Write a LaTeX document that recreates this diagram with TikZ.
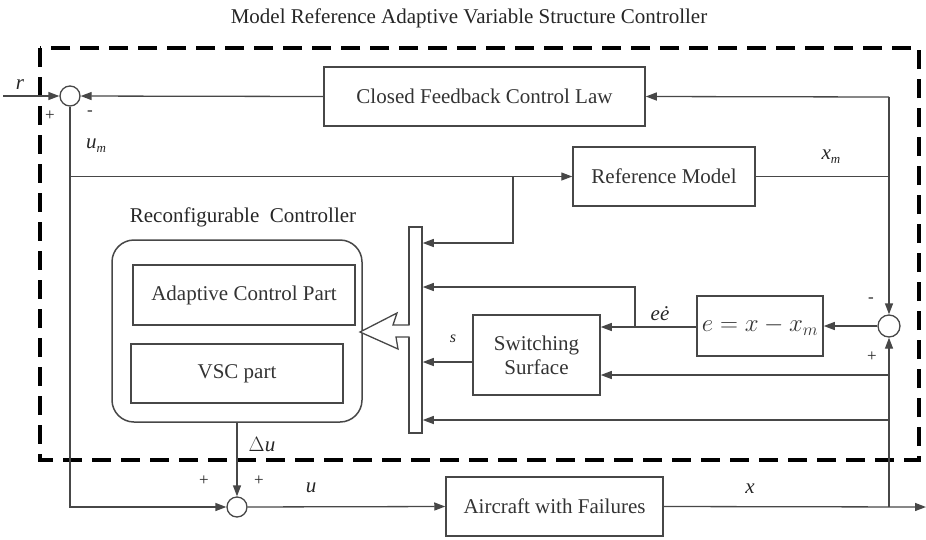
\documentclass[tikz,border=0pt]{standalone}
\usepackage{fontspec}
\setmainfont{LiberationSerif}[Extension=.ttf,UprightFont=*-Regular,ItalicFont=*-Italic,BoldFont=*-Bold,BoldItalicFont=*-BoldItalic]
\usetikzlibrary{arrows.meta}
\newcommand{\bigtxt}{\fontsize{21}{24}\selectfont}
\newcommand{\sgn}{\fontsize{17}{20}\selectfont}
\newcommand{\subv}[2]{\textit{#1}\raisebox{-0.45ex}{\fontsize{13}{14}\selectfont\textit{#2}}}
\begin{document}
\begin{tikzpicture}[x=1pt,y=-1pt,
  ln/.style={draw=black!72,line width=1.3pt},
  arr/.style={ln,-{Triangle[length=11pt,width=8pt]}},
  blk/.style={draw=black!72,line width=1.5pt,rectangle,inner sep=0pt,font=\bigtxt,text=black!80,align=center},
  sumc/.style={draw=black!72,line width=1.3pt,circle,inner sep=0pt,fill=white},
  lbl/.style={font=\bigtxt,text=black!85,inner sep=0pt},
  sg/.style={font=\sgn,text=black!85,inner sep=0pt}
]
\useasboundingbox (0,0) rectangle (926,539);

% title
\node[lbl] (title) at (469,18) {Model Reference Adaptive Variable Structure Controller};

% dashed frame
\draw[line width=3.6pt,dash pattern=on 19pt off 10pt] (40,48) rectangle (919,460);

% blocks
\node[blk,minimum width=321,minimum height=59] (cfcl) at (484.5,96.5) {Closed Feedback Control Law};
\node[blk,minimum width=182,minimum height=59] (refm) at (664,176.5) {Reference Model};
\node[blk,minimum width=217,minimum height=59] (air) at (554.5,506.5) {Aircraft with Failures};
\node[blk,minimum width=126,minimum height=60] (ebox) at (760,326) {\fontsize{24}{26}\selectfont$e=x-x_m$};
\node[blk,minimum width=127,minimum height=80] (sw) at (536.5,355) {Switching\\Surface};
\node[blk,minimum width=250,minimum height=182,rounded corners=22pt] (rc) at (237,331) {};
\node[blk,minimum width=222,minimum height=60] (acp) at (244,295) {Adaptive Control Part};
\node[blk,minimum width=212,minimum height=59] (vsc) at (237,373.5) {VSC part};
\node[lbl] (rclbl) at (243,217) {Reconfigurable\ \ Controller};

% bar and hollow arrow
\node[blk,minimum width=13,minimum height=206,fill=white] (bar) at (415.5,330) {};
\fill[white] (410.5,325) -- (393,325) -- (397,313) -- (360,332) -- (398,349) -- (396,337) -- (410.5,337) -- cycle;
\draw[ln,line width=1.3pt,line join=miter] (409.5,325) -- (393,325) -- (397,313) -- (360,332) -- (398,349) -- (396,337) -- (409.5,337);

% summing junctions
\node[sumc,minimum size=20] (c1) at (70,96) {};
\node[sumc,minimum size=22] (c2) at (889,326) {};
\node[sumc,minimum size=20] (c3) at (237,507) {};

% coordinates
\coordinate (rin) at (3,96);
\coordinate (fbtop) at (889,97);
\coordinate (xmj) at (889,176.5);
\coordinate (umj) at (70,176.5);
\coordinate (umb) at (70,507);
\coordinate (rmtap) at (513,176.5);
\coordinate (rmbend) at (513,243);
\coordinate (eetap) at (635,327);
\coordinate (eebend) at (635,287);
\coordinate (xj1) at (889,375);
\coordinate (xj2) at (889,420);
\coordinate (xj3) at (889,507);
\coordinate (xout) at (926,507);

% connectors
\draw[arr] (rin) -- (c1);
\draw[arr] (cfcl.west) -- (c1);
\draw[arr] (fbtop) -- (cfcl.east);
\draw[arr] (fbtop) -- (c2);
\draw[ln] (refm.east) -- (xmj);
\draw[arr] (c1) -- (umb) -- (c3);
\draw[arr] (umj) -- (refm.west);
\draw[arr] (rmtap) -- (rmbend) -- (bar.east |- rmbend);
\draw[arr] (c2) -- (ebox.east);
\draw[arr] (ebox.west |- eetap) -- (sw.east |- eetap);
\draw[arr] (eetap) -- (eebend) -- (bar.east |- eebend);
\draw[arr] (sw.west |- 0,362) -- (bar.east |- 0,362);
\draw[arr] (xj1) -- (sw.east |- xj1);
\draw[arr] (xj2) -- (bar.east |- xj2);
\draw[arr] (xj3) -- (c2);
\draw[arr] (air.east) -- (xout);
\draw[arr] (rc.south) -- (c3);
\draw[arr] (c3) -- (air.west);

% labels
\node[lbl] (lr) at (20,85) {\textit{r}};
\node[sg] (p1) at (50,116) {+};
\node[sg] (m1) at (90,113) {-};
\node[lbl] (lum) at (96,146) {\subv{u}{m}};
\node[lbl] (lxm) at (831,157) {\subv{x}{m}};
\node[lbl] (lee) at (660,314) {\textit{e\.{e}}};
\node[lbl] (ls) at (453,339) {\fontsize{16}{18}\selectfont\textit{s}};
\node[lbl] (ldu) at (262,445) {$\Delta$\textit{u}};
\node[sg] (p3a) at (204,481) {+};
\node[sg] (p3b) at (259,481) {+};
\node[lbl] (lu) at (311,488) {\textit{u}};
\node[lbl] (lx) at (750,489) {\textit{x}};
\node[sg] (m2) at (871,300) {-};
\node[sg] (p2) at (872,357) {+};
\end{tikzpicture}
\end{document}
